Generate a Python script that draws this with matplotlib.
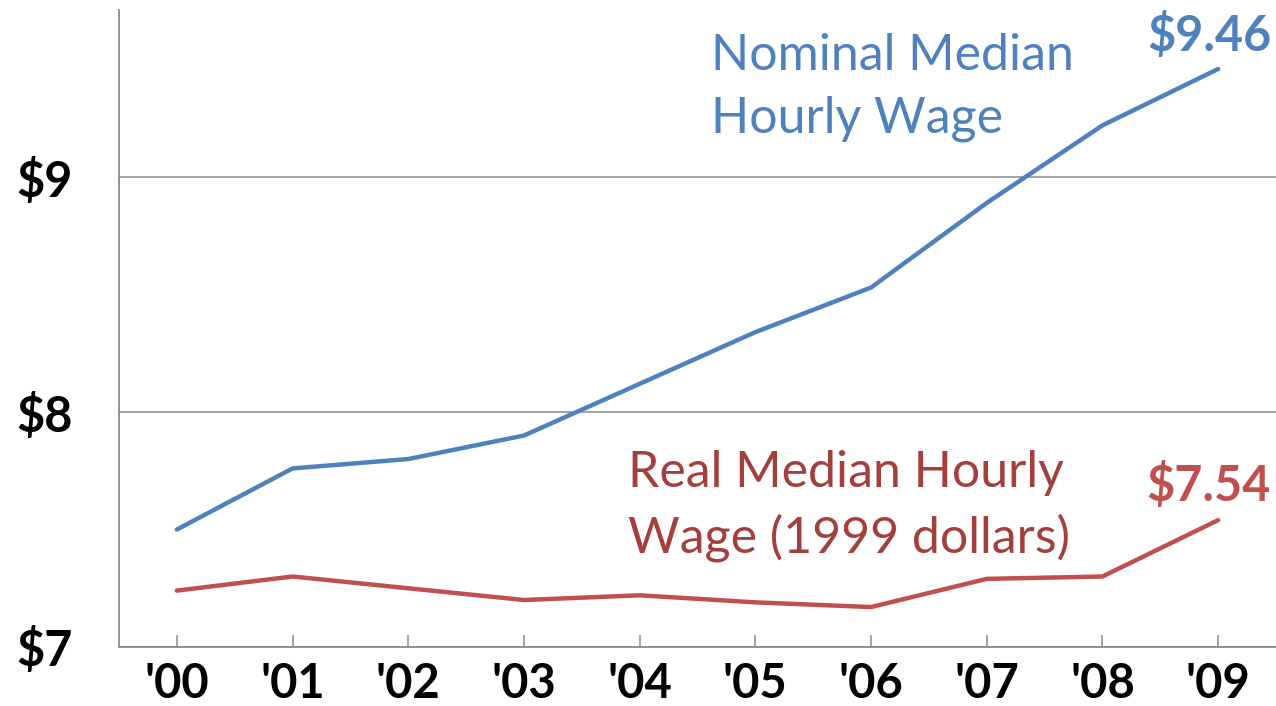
import numpy as np
import matplotlib.pyplot as plt

# data
years = ["'00", "'01", "'02", "'03", "'04", "'05", "'06", "'07", "'08", "'09"]
nominal = [7.50, 7.76, 7.80, 7.90, 8.12, 8.34, 8.53, 8.89, 9.22, 9.46]
real = [7.24, 7.30, 7.25, 7.20, 7.22, 7.19, 7.17, 7.29, 7.30, 7.54]
y_ticks = [7, 8, 9]
y_labels = ['$7', '$8', '$9']

blue = '#4F81BD'
red = '#C0504D'
dark_red = '#A33F3D'
grid_col = '#8C8C8C'

plt.rcParams['font.family'] = ['Lato', 'DejaVu Sans']

fig = plt.figure(figsize=(12.76, 7.06), dpi=100)
ax = fig.add_axes([119 / 1276, 59 / 706, 1 - 119 / 1276, 637 / 706])

x = np.arange(len(years))
ax.plot(x, nominal, color=blue, lw=3.2, solid_capstyle='round', zorder=3)
ax.plot(x, real, color=red, lw=3.2, solid_capstyle='round', zorder=3)

ax.set_xlim(-0.5, 9.5)
ax.set_ylim(7, 9.711)

ax.set_yticks(y_ticks)
ax.set_yticklabels(y_labels, fontsize=35, fontweight='bold')
ax.tick_params(axis='y', length=0, pad=33)

ax.set_xticks(x)
ax.set_xticklabels(years, fontsize=34, fontweight='bold')
ax.tick_params(axis='x', direction='in', length=9, width=1.1, color=grid_col, pad=11)

ax.grid(axis='y', color=grid_col, lw=1.1)
ax.set_axisbelow(True)
for side in ['top', 'right']:
    ax.spines[side].set_visible(False)
for side in ['left', 'bottom']:
    ax.spines[side].set_color(grid_col)
    ax.spines[side].set_linewidth(1.3)

# series labels
ax.text(4.62, 9.38, 'Nominal Median\nHourly Wage', color=blue, fontsize=36,
        ha='left', va='center', linespacing=1.45)
ax.text(3.90, 7.60, 'Real Median Hourly\nWage (1999 dollars)', color=dark_red,
        fontsize=36, ha='left', va='center', linespacing=1.45)

# end value labels
ax.annotate('$%.2f' % nominal[-1], (x[-1], nominal[-1]), xytext=(53, 33),
            textcoords='offset pixels', ha='right', va='center',
            color=blue, fontsize=35, fontweight='bold')
ax.annotate('$%.2f' % real[-1], (x[-1], real[-1]), xytext=(53, 35),
            textcoords='offset pixels', ha='right', va='center',
            color=red, fontsize=35, fontweight='bold')

fig.savefig('out.png', dpi=100)
